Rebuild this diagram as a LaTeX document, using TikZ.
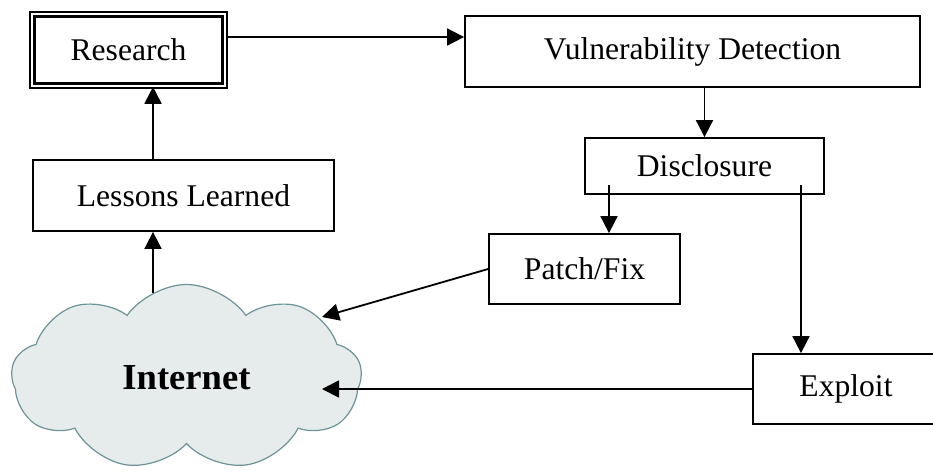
\documentclass[tikz,border=0pt]{standalone}
\usepackage{fontspec}
\setmainfont{Liberation Serif}
\usetikzlibrary{shapes.symbols,arrows.meta}
\definecolor{cloudfill}{RGB}{230,236,236}
\definecolor{cloudline}{RGB}{110,146,150}

\begin{document}
\begin{tikzpicture}[x=0.5pt,y=-0.5pt,
        box/.style={draw,line width=0.9pt,inner sep=0pt,font=\fontsize{15.8}{19}\selectfont},
        arr/.style={-{Triangle[length=8.5pt,width=8.5pt]},line width=0.9pt}]
        \useasboundingbox (0,0) rectangle (933,473);

        % Internet cloud
        \node[cloud,cloud puffs=9,cloud puff arc=110,aspect=1.9,draw=cloudline,line width=0.6pt,fill=cloudfill,
            minimum width=175pt,minimum height=93pt,
            font=\bfseries\fontsize{18.3}{22}\selectfont] (internet) at (186.5,377.5) {Internet};

        % Boxes
        \node[box,double,line width=1.1pt,double distance=1.1pt,minimum width=96.2pt,minimum height=35.7pt] (research) at (128.5,50) {Research};
        \node[box,minimum width=227.5pt,minimum height=35.5pt] (vuln) at (692.5,51.5) {Vulnerability Detection};
        \node[box,minimum width=119.5pt,minimum height=28pt] (disc) at (704.5,166) {Disclosure};
        \node[box,minimum width=95.5pt,minimum height=35pt] (patch) at (584.5,269) {Patch/Fix};
        \node[box,minimum width=150.5pt,minimum height=35.5pt] (lessons) at (183.5,195.5) {Lessons Learned};
        \node[box,minimum width=93pt,minimum height=35pt] (exploit) at (846,389) {Exploit};

        % Connectors
        \coordinate (r0) at ([yshift=6.5pt]research.east);
        \coordinate (d1) at ([xshift=-47.75pt,yshift=5pt]disc.south);
        \coordinate (d2) at ([xshift=48.25pt,yshift=5pt]disc.south);
        \coordinate (i1) at (322,317);
        \coordinate (i2) at (322,389);
        \coordinate (i3) at (153,293);
        \draw[arr] (r0) -- (r0 -| vuln.west);
        \draw[arr] (vuln.south -| disc.north) -- (disc.north);
        \draw[arr] (d1) -- (d1 |- patch.north);
        \draw[arr] (d2) -- (d2 |- exploit.north);
        \draw[arr] (patch.west) -- (i1);
        \draw[arr] (exploit.west) -- (exploit.west -| i2);
        \draw[arr] (i3) -- (i3 |- lessons.south);
        \draw[arr] (i3 |- lessons.north) -- (i3 |- research.south);
\end{tikzpicture}
\end{document}
